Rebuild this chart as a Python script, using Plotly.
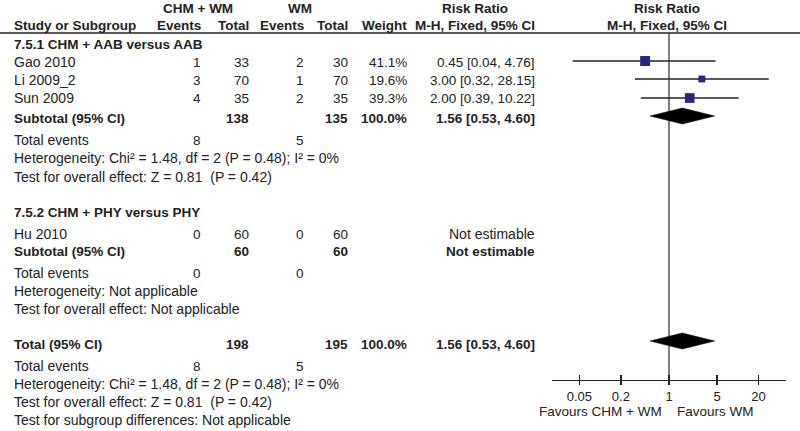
import math
import plotly.graph_objects as go

# ---------------- data ----------------
studies_g1 = ["Gao 2010", "Li 2009_2", "Sun 2009"]
chm_events_g1 = [1, 3, 4]
chm_total_g1 = [33, 70, 35]
wm_events_g1 = [2, 1, 2]
wm_total_g1 = [30, 70, 35]
weight_g1 = [41.1, 19.6, 39.3]
rr_g1 = [0.45, 3.00, 2.00]
lo_g1 = [0.04, 0.32, 0.39]
hi_g1 = [4.76, 28.15, 10.22]

studies_g2 = ["Hu 2010"]
chm_events_g2 = [0]
chm_total_g2 = [60]
wm_events_g2 = [0]
wm_total_g2 = [60]

sub1 = {"est": 1.56, "lo": 0.53, "hi": 4.60, "chm_total": 138, "wm_total": 135,
        "chm_events": 8, "wm_events": 5}
sub2 = {"chm_total": 60, "wm_total": 60, "chm_events": 0, "wm_events": 0}
overall = {"est": 1.56, "lo": 0.53, "hi": 4.60, "chm_total": 198, "wm_total": 195,
           "chm_events": 8, "wm_events": 5}

tick_vals = [0.05, 0.2, 1, 5, 20]
tick_text = ["0.05", "0.2", "1", "5", "20"]

# ---------------- layout helpers ----------------
W, H = 800, 431
FONT = "Liberation Sans, Arial, sans-serif"
TXT = "#222222"
FS = 13.5
FS_LBL = 14

# column right edges (px)
C_LABEL = 12
C_CE, C_CT, C_WE, C_WT, C_W, C_RR = 203, 251, 306, 350, 409, 537

ann = []


def t(x, y, s, anchor="right", bold=False, size=FS):
    if bold:
        s = "<b>%s</b>" % s
    ann.append(dict(x=x / W, y=y, xref="paper", yref="y", text=s, showarrow=False,
                    xanchor=anchor, yanchor="middle",
                    font=dict(family=FONT, size=size, color=TXT)))


def lbl(y, s, bold=False):
    t(C_LABEL, y, s, "left", bold, FS if bold else FS_LBL)


# headers
t(198, 8, "CHM + WM", "center", True)
t(300, 8, "WM", "center", True)
t(475, 8, "Risk Ratio", "center", True)
t(667, 8, "Risk Ratio", "center", True)
lbl(25, "Study or Subgroup", True)
t(C_CE, 25, "Events", bold=True)
t(C_CT, 25, "Total", bold=True)
t(C_WE, 25, "Events", bold=True)
t(C_WT, 25, "Total", bold=True)
t(C_W, 25, "Weight", bold=True)
t(C_RR, 25, "M-H, Fixed, 95% CI", bold=True)
t(667, 25, "M-H, Fixed, 95% CI", "center", True)

# subgroup 1
lbl(44, "7.5.1 CHM + AAB versus AAB", True)
rows_g1_text = [62, 80, 98]
for i, name in enumerate(studies_g1):
    y = rows_g1_text[i]
    lbl(y, name)
    t(C_CE, y, str(chm_events_g1[i]))
    t(C_CT, y, str(chm_total_g1[i]))
    t(C_WE, y, str(wm_events_g1[i]))
    t(C_WT, y, str(wm_total_g1[i]))
    t(C_W, y, "%.1f%%" % weight_g1[i])
    t(C_RR, y, "%.2f [%.2f, %.2f]" % (rr_g1[i], lo_g1[i], hi_g1[i]))
y = 118
lbl(y, "Subtotal (95% CI)", True)
t(C_CT, y, str(sub1["chm_total"]), bold=True)
t(C_WT, y, str(sub1["wm_total"]), bold=True)
t(C_W, y, "100.0%", bold=True)
t(C_RR, y, "%.2f [%.2f, %.2f]" % (sub1["est"], sub1["lo"], sub1["hi"]), bold=True)
lbl(140, "Total events")
t(C_CE, 140, str(sub1["chm_events"]))
t(C_WE, 140, str(sub1["wm_events"]))
lbl(158, "Heterogeneity: Chi² = 1.48, df = 2 (P = 0.48); I² = 0%")
lbl(177, "Test for overall effect: Z = 0.81  (P = 0.42)")

# subgroup 2
lbl(212, "7.5.2 CHM + PHY versus PHY", True)
y = 234
lbl(y, studies_g2[0])
t(C_CE, y, str(chm_events_g2[0]))
t(C_CT, y, str(chm_total_g2[0]))
t(C_WE, y, str(wm_events_g2[0]))
t(C_WT, y, str(wm_total_g2[0]))
t(C_RR, y, "Not estimable", size=FS_LBL)
y = 251
lbl(y, "Subtotal (95% CI)", True)
t(C_CT, y, str(sub2["chm_total"]), bold=True)
t(C_WT, y, str(sub2["wm_total"]), bold=True)
t(C_RR, y, "Not estimable", bold=True)
lbl(273, "Total events")
t(C_CE, 273, str(sub2["chm_events"]))
t(C_WE, 273, str(sub2["wm_events"]))
lbl(291, "Heterogeneity: Not applicable")
lbl(309, "Test for overall effect: Not applicable")

# overall
y = 344
lbl(y, "Total (95% CI)", True)
t(C_CT, y, str(overall["chm_total"]), bold=True)
t(C_WT, y, str(overall["wm_total"]), bold=True)
t(C_W, y, "100.0%", bold=True)
t(C_RR, y, "%.2f [%.2f, %.2f]" % (overall["est"], overall["lo"], overall["hi"]), bold=True)
lbl(366, "Total events")
t(C_CE, 366, str(overall["chm_events"]))
t(C_WE, 366, str(overall["wm_events"]))
lbl(384, "Heterogeneity: Chi² = 1.48, df = 2 (P = 0.48); I² = 0%")
lbl(402, "Test for overall effect: Z = 0.81  (P = 0.42)")
lbl(420, "Test for subgroup differences: Not applicable")

# favours labels
t(664, 411, "Favours CHM + WM", "right")
t(675, 411, "Favours WM", "left")

# ---------------- forest traces ----------------
fig = go.Figure()
rows_g1_mark = [61, 79, 98]
for i in range(len(studies_g1)):
    fig.add_trace(go.Scatter(x=[lo_g1[i], hi_g1[i]], y=[rows_g1_mark[i]] * 2,
                             mode="lines", line=dict(color="#222222", width=1.3),
                             hoverinfo="skip", showlegend=False))
fig.add_trace(go.Scatter(x=rr_g1, y=rows_g1_mark, mode="markers",
                         marker=dict(symbol="square", color="#262680", opacity=1,
                                     size=[1.55 * math.sqrt(w) for w in weight_g1],
                                     line=dict(width=0)),
                         hoverinfo="skip", showlegend=False))


def diamond(d, yc, half=8):
    fig.add_trace(go.Scatter(x=[d["lo"], d["est"], d["hi"], d["est"], d["lo"]],
                             y=[yc, yc - half, yc, yc + half, yc],
                             mode="lines", fill="toself", fillcolor="#000000",
                             line=dict(color="#000000", width=0.5),
                             showlegend=False, hoverinfo="skip"))


diamond(sub1, 116)
diamond(overall, 341)

AXIS_Y = 380
fig.update_layout(
    width=W, height=H,
    margin=dict(l=0, r=0, t=0, b=0),
    paper_bgcolor="white", plot_bgcolor="rgba(0,0,0,0)",
    showlegend=False,
    annotations=ann,
    xaxis=dict(type="log", domain=[552 / W, 786 / W],
               range=[math.log10(0.02), math.log10(50)],
               anchor="free", position=(H - AXIS_Y) / H,
               showline=True, linecolor="#222222", linewidth=1.3,
               ticks="outside", ticklen=4, tickwidth=1.3, tickcolor="#222222",
               tickvals=tick_vals, ticktext=tick_text,
               tickfont=dict(family=FONT, size=13, color=TXT),
               showgrid=False, zeroline=False, fixedrange=True),
    xaxis2=dict(type="log", domain=[552 / W, 786 / W], overlaying="x",
                range=[math.log10(0.02), math.log10(50)],
                anchor="free", position=(H - AXIS_Y) / H,
                showline=False, ticks="inside", ticklen=5, tickwidth=1.3,
                tickcolor="#222222", tickvals=tick_vals, showticklabels=False,
                showgrid=False, zeroline=False, fixedrange=True),
    yaxis=dict(domain=[0, 1], range=[H, 0], visible=False, fixedrange=True),
    shapes=[
        dict(type="line", xref="paper", yref="y", x0=0, x1=1, y0=33, y1=33,
             line=dict(color="#222222", width=1.3)),
        dict(type="line", xref="x", yref="y", x0=1, x1=1, y0=33, y1=AXIS_Y,
             line=dict(color="#555555", width=1.5), layer="below"),
    ],
)
# invisible trace so the overlaying axis (inside tick marks) is drawn
fig.add_trace(go.Scatter(x=[1], y=[AXIS_Y], xaxis="x2", mode="markers",
                         marker=dict(opacity=0), hoverinfo="skip", showlegend=False))

fig.write_html("out.html", config={"displayModeBar": False, "staticPlot": True},
               post_script="document.body.style.margin='0';document.body.style.overflow='hidden';")
